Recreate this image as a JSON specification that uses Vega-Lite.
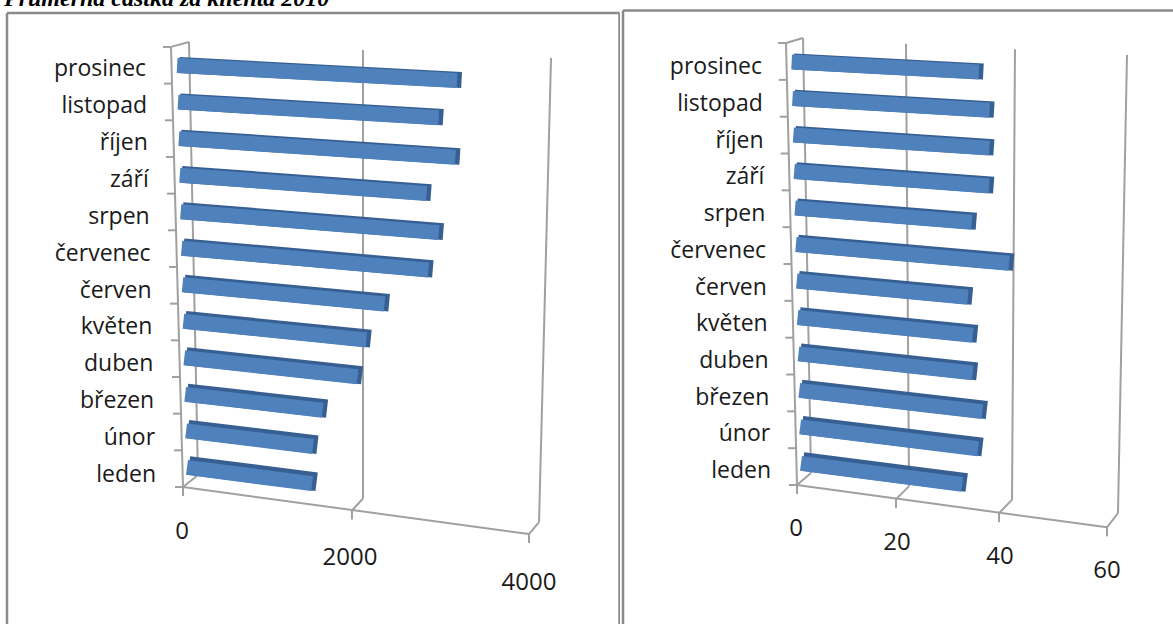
{"$schema":"https://vega.github.io/schema/vega-lite/v6.json","padding":0,"background":"white","spacing":1,"bounds":"flush","config":{"view":{"stroke":null}},
"datasets":{
"castka":[{"month":"leden","value":1430},{"month":"únor","value":1450},{"month":"březen","value":1570},{"month":"duben","value":1980},{"month":"květen","value":2090},{"month":"červen","value":2310},{"month":"červenec","value":2820},{"month":"srpen","value":2950},{"month":"září","value":2820},{"month":"říjen","value":3160},{"month":"listopad","value":2980},{"month":"prosinec","value":3200}],
"pocet":[{"month":"leden","value":31},{"month":"únor","value":34.2},{"month":"březen","value":35.2},{"month":"duben","value":33.5},{"month":"květen","value":33.7},{"month":"červen","value":32.9},{"month":"červenec","value":41},{"month":"srpen","value":34},{"month":"září","value":37.5},{"month":"říjen","value":37.7},{"month":"listopad","value":37.9},{"month":"prosinec","value":36}],
"ticks1":[{"v":0},{"v":2000},{"v":4000}],
"ticks2":[{"v":0},{"v":20},{"v":40},{"v":60}],
"rows":[{"k":0},{"k":1},{"k":2},{"k":3},{"k":4},{"k":5},{"k":6},{"k":7},{"k":8},{"k":9},{"k":10},{"k":11},{"k":12}]
},
"hconcat":[
{"width":620,"height":624,
"encoding":{"x":{"field":"x","type":"quantitative","axis":null,"scale":{"domain":[-2091.43,4994.29],"nice":false,"zero":false}},"y":{"field":"y","type":"quantitative","axis":null,"scale":{"domain":[-4.354,12.788],"nice":false,"zero":false}}},
"layer":[
{"data":{"values":[{"edge":"left"},{"edge":"top"},{"edge":"right"}]},
"transform":[{"calculate":"datum.edge==='left'?-2011.4:datum.edge==='top'?-2011.4:4988.6","as":"x"},{"calculate":"datum.edge==='top'?4988.6:datum.x","as":"x2"},{"calculate":"12.431","as":"y"},{"calculate":"datum.edge==='top'?12.431:-4.354","as":"y2"}],
"mark":{"type":"rule","stroke":"#8a8a8a","strokeWidth":2.5,"clip":true},"encoding":{"x2":{"field":"x2"},"y2":{"field":"y2"}}},
{"data":{"values":[{"t":"Průměrná částka za klienta 2010"}]},
"transform":[{"calculate":"-2046","as":"x"},{"calculate":"12.62","as":"y"}],
"mark":{"type":"text","font":"Liberation Serif","fontStyle":"italic","fontWeight":"bold","fontSize":24,"align":"left","baseline":"alphabetic","color":"#000","clip":true},"encoding":{"text":{"field":"t"}}},
{"data":{"name":"ticks1"},
"transform":[{"calculate":"datum.v===0?171.4:datum.v===2000?2057:4069","as":"x"},{"calculate":"-0.261-0.000323*datum.v","as":"y"},{"calculate":"datum.v===0?68.6:datum.v===2000?2057:4206","as":"x2"},{"calculate":"11.635-0.00011*datum.v","as":"y2"}],
"mark":{"type":"rule","stroke":"#a0a0a0","strokeWidth":2,"clip":true},"encoding":{"x2":{"field":"x2"},"y2":{"field":"y2"}}},
{"data":{"name":"ticks1"},
"transform":[{"calculate":"datum.v===0?0:datum.v===2000?1931:3954","as":"x"},{"calculate":"-0.5907-0.000323*datum.v","as":"y"},{"calculate":"datum.v===0?171.4:datum.v===2000?2057:4069","as":"x2"},{"calculate":"-0.261-0.000323*datum.v","as":"y2"}],
"mark":{"type":"rule","stroke":"#a0a0a0","strokeWidth":2,"clip":true},"encoding":{"x2":{"field":"x2"},"y2":{"field":"y2"}}},
{"data":{"name":"ticks1"},
"transform":[{"calculate":"datum.v===0?0:datum.v===2000?1931:3954","as":"x"},{"calculate":"-0.5907-0.000323*datum.v","as":"y"},{"calculate":"datum.x","as":"x2"},{"calculate":"datum.y-0.247","as":"y2"}],
"mark":{"type":"rule","stroke":"#a0a0a0","strokeWidth":2,"clip":true},"encoding":{"x2":{"field":"x2"},"y2":{"field":"y2"}}},
{"data":{"values":[{"s":"floor"},{"s":"axis"},{"s":"ledge"}]},
"transform":[{"calculate":"datum.s==='ledge'?68.6:0","as":"x"},{"calculate":"datum.s==='ledge'?11.635:-0.5907","as":"y"},{"calculate":"datum.s==='floor'?3954:-137","as":"x2"},{"calculate":"datum.s==='floor'?-1.883:11.5","as":"y2"}],
"mark":{"type":"rule","stroke":"#a0a0a0","strokeWidth":2,"clip":true},"encoding":{"x2":{"field":"x2"},"y2":{"field":"y2"}}},
{"data":{"name":"rows"},
"transform":[{"calculate":"-11.43*datum.k","as":"x2"},{"calculate":"datum.x2-91.4","as":"x"},{"calculate":"-0.5907+1.0074*datum.k","as":"y"},{"calculate":"datum.y","as":"y2"}],
"mark":{"type":"rule","stroke":"#a0a0a0","strokeWidth":2,"clip":true},"encoding":{"x2":{"field":"x2"},"y2":{"field":"y2"}}},
{"data":{"name":"castka"},
"transform":[{"window":[{"op":"row_number","as":"rn"}]},{"calculate":"datum.rn-1","as":"i"},{"calculate":"45.7-10.29*datum.i","as":"x"},{"calculate":"datum.x+datum.value","as":"x2"},{"calculate":"1+0.25*(11-datum.i)","as":"t"},{"calculate":"datum.i","as":"y"},{"calculate":"datum.i-datum.value*0.0875*(0.13-0.007*datum.i)/36.4","as":"y2"},{"calculate":"15+datum.t","as":"w"}],
"mark":{"type":"rule","stroke":"#375F92","xOffset":2,"x2Offset":4.5,"clip":true},"encoding":{"x2":{"field":"x2"},"y2":{"field":"y2"},"size":{"field":"w","type":"quantitative","scale":null,"legend":null}}},
{"data":{"name":"castka"},
"transform":[{"window":[{"op":"row_number","as":"rn"}]},{"calculate":"datum.rn-1","as":"i"},{"calculate":"45.7-10.29*datum.i","as":"x"},{"calculate":"datum.x+datum.value","as":"x2"},{"calculate":"1+0.25*(11-datum.i)","as":"t"},{"calculate":"datum.i-datum.t/2/36.4","as":"y"},{"calculate":"datum.y-datum.value*0.0875*(0.13-0.007*datum.i)/36.4","as":"y2"}],
"mark":{"type":"rule","stroke":"#4F81BD","strokeWidth":15,"clip":true},"encoding":{"x2":{"field":"x2"},"y2":{"field":"y2"}}},
{"data":{"name":"castka"},
"transform":[{"window":[{"op":"row_number","as":"rn"}]},{"calculate":"datum.rn-1","as":"i"},{"calculate":"-308.6-10.3*datum.i","as":"x"},{"calculate":"-0.26+1.013*datum.i","as":"y"}],
"mark":{"type":"text","font":"Open Sans","fontSize":23,"align":"right","baseline":"middle","color":"#1a1a1a","clip":true},"encoding":{"text":{"field":"month"}}},
{"data":{"name":"ticks1"},
"transform":[{"calculate":"datum.v===0?-11.4:datum.v===2000?1908:3954","as":"x"},{"calculate":"(465.5-532-0.01275*datum.v)/36.4","as":"y"}],
"mark":{"type":"text","font":"Open Sans","fontSize":24,"align":"center","baseline":"middle","color":"#1a1a1a","clip":true},"encoding":{"text":{"field":"v","type":"quantitative","format":"d"}}}
]},
{"width":552,"height":624,
"encoding":{"x":{"field":"x","type":"quantitative","axis":null,"scale":{"domain":[-33.846,72.308],"nice":false,"zero":false}},"y":{"field":"y","type":"quantitative","axis":null,"scale":{"domain":[-4.469,12.692],"nice":false,"zero":false}}},
"layer":[
{"data":{"values":[{"edge":"left"},{"edge":"top"}]},
"transform":[{"calculate":"-33.46","as":"x"},{"calculate":"datum.edge==='top'?72.308:-33.46","as":"x2"},{"calculate":"12.404","as":"y"},{"calculate":"datum.edge==='top'?12.404:-4.469","as":"y2"}],
"mark":{"type":"rule","stroke":"#8a8a8a","strokeWidth":2.5,"clip":true},"encoding":{"x2":{"field":"x2"},"y2":{"field":"y2"}}},
{"data":{"name":"ticks2"},
"transform":[{"calculate":"datum.v===0?2.692:datum.v===20?21.54:datum.v===40?41.35:61.73","as":"x"},{"calculate":"-0.3163-0.01834*datum.v","as":"y"},{"calculate":"datum.v===0?1.154:datum.v===20?20.96:datum.v===40?41.92:63.46","as":"x2"},{"calculate":"11.647-0.00778*datum.v","as":"y2"}],
"mark":{"type":"rule","stroke":"#a0a0a0","strokeWidth":2,"clip":true},"encoding":{"x2":{"field":"x2"},"y2":{"field":"y2"}}},
{"data":{"name":"ticks2"},
"transform":[{"calculate":"datum.v===0?0:datum.v===20?19.04:datum.v===40?38.85:59.62","as":"x"},{"calculate":"-0.6463-0.01939*datum.v","as":"y"},{"calculate":"datum.v===0?2.692:datum.v===20?21.54:datum.v===40?41.35:61.73","as":"x2"},{"calculate":"-0.3163-0.01834*datum.v","as":"y2"}],
"mark":{"type":"rule","stroke":"#a0a0a0","strokeWidth":2,"clip":true},"encoding":{"x2":{"field":"x2"},"y2":{"field":"y2"}}},
{"data":{"name":"ticks2"},
"transform":[{"calculate":"datum.v===0?0:datum.v===20?19.04:datum.v===40?38.85:59.62","as":"x"},{"calculate":"-0.6463-0.01939*datum.v","as":"y"},{"calculate":"datum.x","as":"x2"},{"calculate":"datum.y-0.2475","as":"y2"}],
"mark":{"type":"rule","stroke":"#a0a0a0","strokeWidth":2,"clip":true},"encoding":{"x2":{"field":"x2"},"y2":{"field":"y2"}}},
{"data":{"values":[{"s":"floor"},{"s":"axis"},{"s":"ledge"}]},
"transform":[{"calculate":"datum.s==='ledge'?1.154:0","as":"x"},{"calculate":"datum.s==='ledge'?11.647:-0.6463","as":"y"},{"calculate":"datum.s==='floor'?59.62:-2.115","as":"x2"},{"calculate":"datum.s==='floor'?-1.81:11.51","as":"y2"}],
"mark":{"type":"rule","stroke":"#a0a0a0","strokeWidth":2,"clip":true},"encoding":{"x2":{"field":"x2"},"y2":{"field":"y2"}}},
{"data":{"name":"rows"},
"transform":[{"calculate":"-0.1769*datum.k","as":"x2"},{"calculate":"datum.x2-1.538","as":"x"},{"calculate":"-0.6463+1.0129*datum.k","as":"y"},{"calculate":"datum.y","as":"y2"}],
"mark":{"type":"rule","stroke":"#a0a0a0","strokeWidth":2,"clip":true},"encoding":{"x2":{"field":"x2"},"y2":{"field":"y2"}}},
{"data":{"name":"pocet"},
"transform":[{"window":[{"op":"row_number","as":"rn"}]},{"calculate":"datum.rn-1","as":"i"},{"calculate":"0.769-0.1635*datum.i","as":"x"},{"calculate":"datum.x+datum.value","as":"x2"},{"calculate":"1+0.25*(11-datum.i)","as":"t"},{"calculate":"datum.i","as":"y"},{"calculate":"datum.i-datum.value*5.2*(0.13-0.007*datum.i)/36.36","as":"y2"},{"calculate":"15+datum.t","as":"w"}],
"mark":{"type":"rule","stroke":"#375F92","xOffset":2,"x2Offset":4.5,"clip":true},"encoding":{"x2":{"field":"x2"},"y2":{"field":"y2"},"size":{"field":"w","type":"quantitative","scale":null,"legend":null}}},
{"data":{"name":"pocet"},
"transform":[{"window":[{"op":"row_number","as":"rn"}]},{"calculate":"datum.rn-1","as":"i"},{"calculate":"0.769-0.1635*datum.i","as":"x"},{"calculate":"datum.x+datum.value","as":"x2"},{"calculate":"1+0.25*(11-datum.i)","as":"t"},{"calculate":"datum.i-datum.t/2/36.36","as":"y"},{"calculate":"datum.y-datum.value*5.2*(0.13-0.007*datum.i)/36.36","as":"y2"}],
"mark":{"type":"rule","stroke":"#4F81BD","strokeWidth":15,"clip":true},"encoding":{"x2":{"field":"x2"},"y2":{"field":"y2"}}},
{"data":{"name":"pocet"},
"transform":[{"window":[{"op":"row_number","as":"rn"}]},{"calculate":"datum.rn-1","as":"i"},{"calculate":"-5-0.158*datum.i","as":"x"},{"calculate":"-0.26+1.009*datum.i","as":"y"}],
"mark":{"type":"text","font":"Open Sans","fontSize":23,"align":"right","baseline":"middle","color":"#1a1a1a","clip":true},"encoding":{"text":{"field":"month"}}},
{"data":{"name":"ticks2"},
"transform":[{"calculate":"datum.v===0?-0.19:datum.v===20?19.23:datum.v===40?39.04:59.6","as":"x"},{"calculate":"(461.5-529-0.7*datum.v)/36.36","as":"y"}],
"mark":{"type":"text","font":"Open Sans","fontSize":24,"align":"center","baseline":"middle","color":"#1a1a1a","clip":true},"encoding":{"text":{"field":"v","type":"quantitative","format":"d"}}}
]}
]}
